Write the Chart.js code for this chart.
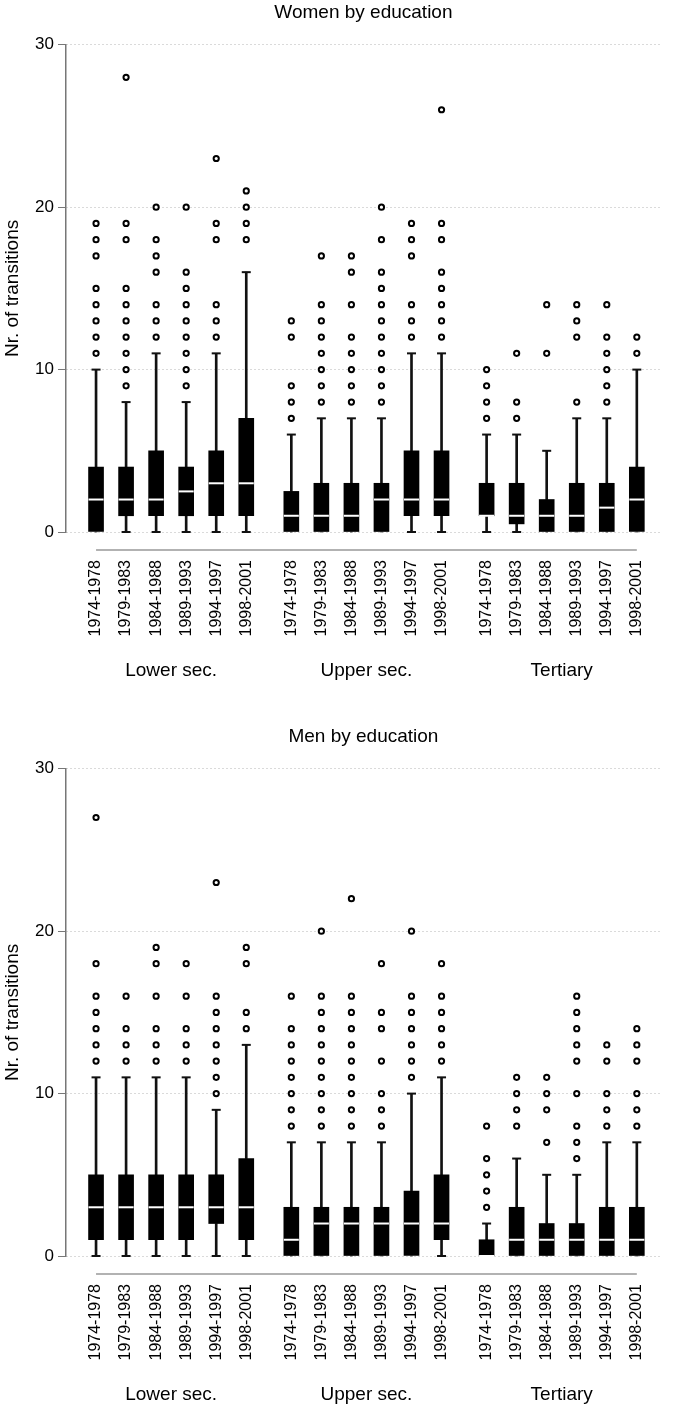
<!DOCTYPE html>
<html>
<head>
<meta charset="utf-8">
<script src="https://cdn.jsdelivr.net/npm/chart.js@4.4.1/dist/chart.umd.min.js"></script>
<style>
  body { margin: 0; background: #fff; }
  #panelMujeres { position: relative; width: 685px; height: 724px; }
  #panelHombres { position: relative; width: 685px; height: 682px; }
</style>
</head>
<body>
<div id="panelMujeres"><canvas id="graficoMujeres"></canvas></div>
<div id="panelHombres"><canvas id="graficoHombres"></canvas></div>
<script>
// ==========================================
// DATOS
// ==========================================
const periods = ['1974-1978', '1979-1983', '1984-1988', '1989-1993', '1994-1997', '1998-2001'];
const groups = ['Lower sec.', 'Upper sec.', 'Tertiary'];
// posición de cada caja en el eje x (hueco entre grupos)
const positions = [0, 1, 2, 3, 4, 5, 6.5, 7.5, 8.5, 9.5, 10.5, 11.5, 13, 14, 15, 16, 17, 18];
const groupCenters = [2.5, 9, 15.5];

// Mujeres
const womenLow  = [0, 0, 0, 0, 0, 0,   0, 0, 0, 0, 0, 0,   0, 0, 0, 0, 0, 0];
const womenQ1   = [0, 1, 1, 1, 1, 1,   0, 0, 0, 0, 1, 1,   1, 0.5, 0, 0, 0, 0];
const womenMed  = [2, 2, 2, 2.5, 3, 3, 1, 1, 1, 2, 2, 2,   1, 1, 1, 1, 1.5, 2];
const womenQ3   = [4, 4, 5, 4, 5, 7,   2.5, 3, 3, 3, 5, 5, 3, 3, 2, 3, 3, 4];
const womenHigh = [10, 8, 11, 8, 11, 16, 6, 7, 7, 7, 11, 11, 6, 6, 5, 7, 7, 10];
const womenOutliers = [
    [11, 12, 13, 14, 15, 17, 18, 19],
    [9, 10, 11, 12, 13, 14, 15, 18, 19, 28],
    [12, 13, 14, 16, 17, 18, 20],
    [9, 10, 11, 12, 13, 14, 15, 16, 20],
    [12, 13, 14, 18, 19, 23],
    [18, 19, 20, 21],
    [7, 8, 9, 12, 13],
    [8, 9, 10, 11, 12, 13, 14, 17],
    [8, 9, 10, 11, 12, 14, 16, 17],
    [8, 9, 10, 11, 12, 13, 14, 15, 16, 18, 20],
    [12, 13, 14, 17, 18, 19],
    [12, 13, 14, 15, 16, 18, 19, 26],
    [7, 8, 9, 10],
    [7, 8, 11],
    [11, 14],
    [8, 12, 13, 14],
    [8, 9, 10, 11, 12, 14],
    [11, 12]
];

// Hombres
const menLow  = [0, 0, 0, 0, 0, 0,   0, 0, 0, 0, 0, 0,   0, 0, 0, 0, 0, 0];
const menQ1   = [1, 1, 1, 1, 2, 1,   0, 0, 0, 0, 0, 1,   0, 0, 0, 0, 0, 0];
const menMed  = [3, 3, 3, 3, 3, 3,   1, 2, 2, 2, 2, 2,   0, 1, 1, 1, 1, 1];
const menQ3   = [5, 5, 5, 5, 5, 6,   3, 3, 3, 3, 4, 5,   1, 3, 2, 2, 3, 3];
const menHigh = [11, 11, 11, 11, 9, 13, 7, 7, 7, 7, 10, 11, 2, 6, 5, 5, 7, 7];
const menOutliers = [
    [12, 13, 14, 15, 16, 18, 27],
    [12, 13, 14, 16],
    [12, 13, 14, 16, 18, 19],
    [12, 13, 14, 16, 18],
    [10, 11, 12, 13, 14, 15, 16, 23],
    [14, 15, 18, 19],
    [8, 9, 10, 11, 12, 13, 14, 16],
    [8, 9, 10, 11, 12, 13, 14, 15, 16, 20],
    [8, 9, 10, 11, 12, 13, 14, 15, 16, 22],
    [8, 9, 10, 12, 14, 15, 18],
    [11, 12, 13, 14, 15, 16, 20],
    [12, 13, 14, 15, 16, 18],
    [3, 4, 5, 6, 8],
    [8, 9, 10, 11],
    [7, 9, 10, 11],
    [6, 7, 8, 10, 12, 13, 14, 15, 16],
    [8, 9, 10, 12, 13],
    [8, 9, 10, 12, 13, 14]
];

const FONT = "'Liberation Sans', Arial, sans-serif";

// Línea gris bajo las cajas (de la primera a la última categoría)
const lineaEje = {
    id: 'lineaEje',
    afterDraw(chart) {
        const { ctx, chartArea, scales: { x } } = chart;
        const y = chartArea.bottom + 18;
        ctx.save();
        ctx.strokeStyle = '#999';
        ctx.lineWidth = 1.5;
        ctx.beginPath();
        ctx.moveTo(x.getPixelForValue(positions[0]), y);
        ctx.lineTo(x.getPixelForValue(positions[positions.length - 1]), y);
        ctx.stroke();
        ctx.restore();
    }
};

function dibujarPanel(canvasId, titulo, low, q1, med, q3, high, outliers, padAbajo) {
    const ctx = document.getElementById(canvasId).getContext('2d');

    const cajas = positions.map((x, i) => ({ x, y: [q1[i], q3[i]] }));
    const bigoteBajo = positions.map((x, i) => ({ x, y: [low[i], q1[i]] }));
    const bigoteAlto = positions.map((x, i) => ({ x, y: [q3[i], high[i]] }));
    const medianas = positions.map((x, i) => ({ x, y: med[i] }));
    const topes = [];
    positions.forEach((x, i) => {
        if (low[i] < q1[i]) topes.push({ x, y: low[i] });
        if (high[i] > q3[i]) topes.push({ x, y: high[i] });
    });
    const atipicos = [];
    outliers.forEach((arr, i) => arr.forEach(v => atipicos.push({ x: positions[i], y: v })));

    return new Chart(ctx, {
        type: 'bar',
        data: {
            datasets: [
                { type: 'scatter', data: atipicos, pointStyle: 'circle', pointRadius: 2.6, borderWidth: 2,
                  borderColor: '#000', backgroundColor: '#fff', clip: false },
                { type: 'scatter', data: medianas, pointStyle: 'line', pointRadius: 7.5, borderWidth: 2,
                  borderColor: '#fff', clip: false },
                { type: 'scatter', data: topes, pointStyle: 'line', pointRadius: 4.5, borderWidth: 2,
                  borderColor: '#111', clip: false },
                { data: cajas, backgroundColor: '#000', barThickness: 15, grouped: false, borderWidth: 0, clip: false },
                { data: bigoteAlto, backgroundColor: '#111', barThickness: 2, grouped: false, borderWidth: 0, clip: false },
                { data: bigoteBajo, backgroundColor: '#111', barThickness: 2, grouped: false, borderWidth: 0, clip: false }
            ]
        },
        options: {
            responsive: true, maintainAspectRatio: false,
            animation: false, events: [],
            layout: { padding: { left: 0, right: 5, top: 0, bottom: padAbajo } },
            plugins: {
                legend: { display: false },
                tooltip: { enabled: false },
                title: {
                    display: true, text: titulo, fullSize: false,
                    color: '#000', font: { family: FONT, size: 19, weight: 'normal' },
                    padding: { top: 1, bottom: 21 }
                }
            },
            scales: {
                x: {
                    type: 'linear', position: 'bottom', weight: 0,
                    min: -1, max: 18.8, offset: false,
                    afterBuildTicks: s => { s.ticks = positions.map(v => ({ value: v })); },
                    afterFit: s => { s.height = 110; },
                    grid: { display: false, drawTicks: false },
                    border: { display: false },
                    ticks: {
                        autoSkip: false, minRotation: 90, maxRotation: 90, padding: 28,
                        color: '#000', font: { family: FONT, size: 16 },
                        callback: (v, i) => periods[i % periods.length]
                    }
                },
                x2: {
                    type: 'linear', position: 'bottom', weight: 1,
                    min: -1, max: 18.8, offset: false,
                    afterBuildTicks: s => { s.ticks = groupCenters.map(v => ({ value: v })); },
                    afterFit: s => { s.height = 40; },
                    grid: { display: false, drawTicks: false },
                    border: { display: false },
                    ticks: {
                        autoSkip: false, minRotation: 0, maxRotation: 0, padding: 17,
                        color: '#000', font: { family: FONT, size: 19 },
                        callback: (v, i) => groups[i]
                    }
                },
                y: {
                    min: 0, max: 30,
                    afterFit: s => { s.width = 66; },
                    ticks: { stepSize: 10, padding: 4, color: '#000', font: { family: FONT, size: 17 } },
                    grid: { color: '#b5b5b5', lineWidth: 1, drawTicks: true, tickLength: 8, tickColor: '#777', tickWidth: 1 },
                    border: { display: true, color: '#777', width: 1.5, dash: [1, 3] },
                    title: {
                        display: true, text: 'Nr. of transitions', color: '#000',
                        font: { family: FONT, size: 19 }, padding: { top: 1, bottom: 0 }
                    }
                }
            }
        },
        plugins: [lineaEje]
    });
}

dibujarPanel('graficoMujeres', 'Women by education',
    womenLow, womenQ1, womenMed, womenQ3, womenHigh, womenOutliers, 42);
dibujarPanel('graficoHombres', 'Men by education',
    menLow, menQ1, menMed, menQ3, menHigh, menOutliers, 0);
</script>
</body>
</html>
